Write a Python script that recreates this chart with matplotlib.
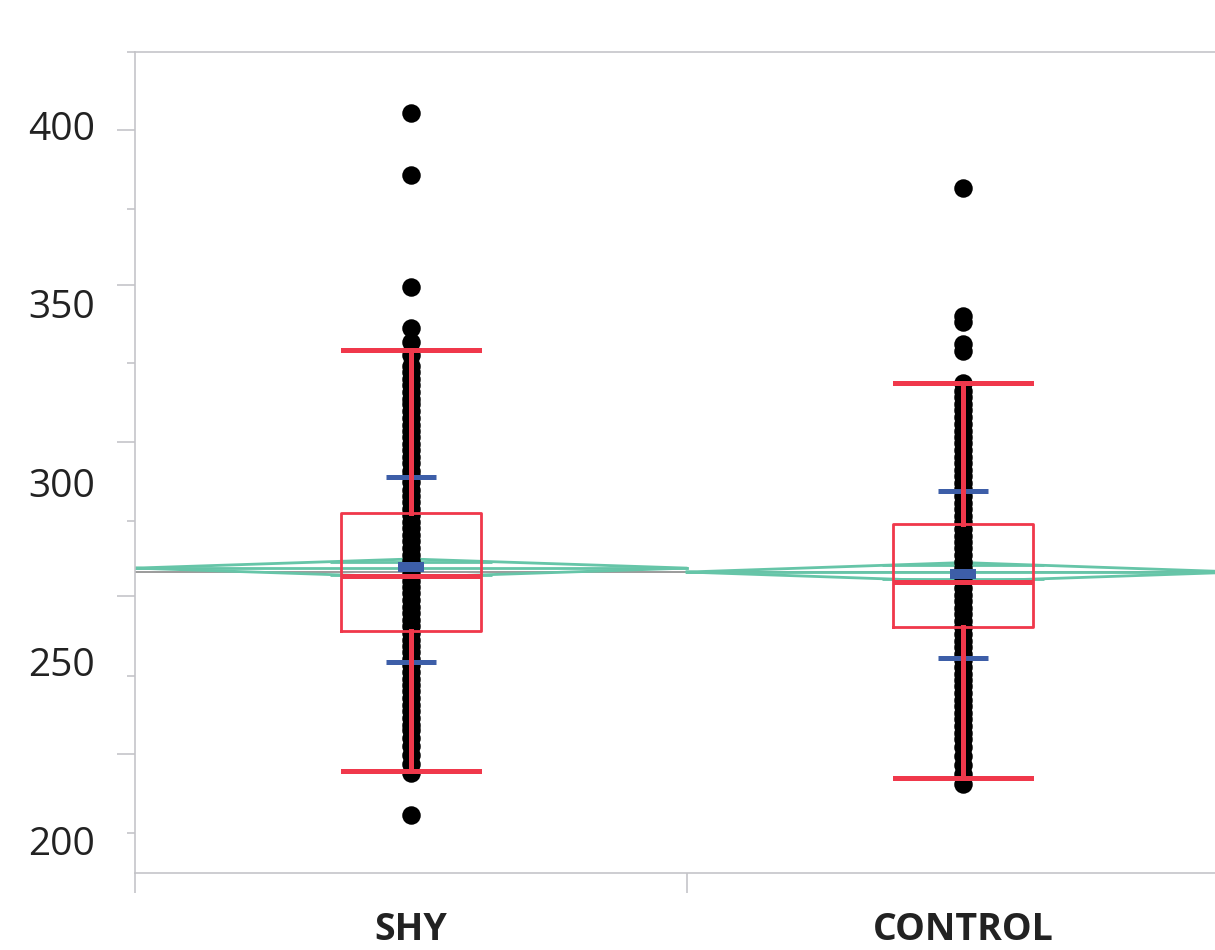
"""Oneway plot (SHY vs CONTROL): raw points, quantile boxes, SD bars, means diamonds."""

import matplotlib

matplotlib.use("Agg")
import matplotlib.pyplot as plt  # noqa: E402
import numpy as np  # noqa: E402

plt.rcParams["font.family"] = ["Open Sans", "DejaVu Sans"]

GROUPS = ["SHY", "CONTROL"]
GROUP_X = [0.5, 1.5]

SHY_VALUES = [
    403.5, 386.0, 354.7, 343.3, 339.3, 335.8, 332.6, 330.9, 329.0, 327.2,
    325.3, 323.5, 321.9, 320.0, 318.2, 316.1, 314.5, 312.7, 310.8, 309.1,
    307.2, 305.5, 303.4, 301.8, 300.1, 298.0, 296.4, 294.5, 292.6, 290.9,
    289.0, 287.3, 285.3, 283.6, 281.7, 279.8, 278.2, 276.1, 274.5, 272.6,
    270.7, 269.0, 267.1, 265.2, 263.6, 261.5, 259.9, 258.0, 256.1, 254.4,
    252.5, 250.6, 248.9, 247.1, 245.2, 243.3, 241.7, 239.8, 237.8, 236.2,
    234.3, 232.3, 230.7, 228.6, 226.4, 223.9, 221.3, 218.7, 207.0,
]
CONTROL_VALUES = [
    382.5, 346.7, 345.0, 338.9, 336.9, 327.8, 325.6, 323.9, 322.0, 320.2,
    318.3, 316.5, 314.6, 312.8, 311.0, 309.1, 307.3, 305.4, 303.6, 301.8,
    299.9, 298.1, 296.3, 294.4, 292.6, 290.7, 288.9, 287.1, 285.2, 283.4,
    281.6, 279.7, 277.9, 276.0, 274.2, 272.4, 270.5, 268.7, 266.9, 265.0,
    263.2, 261.3, 259.5, 257.7, 255.8, 254.0, 252.2, 250.3, 248.5, 246.6,
    244.8, 243.0, 241.1, 239.3, 237.5, 235.6, 233.8, 231.9, 230.1, 228.2,
    226.0, 223.6, 221.1, 218.4, 215.6,
]

# quantile boxes
Q1 = [258.5, 259.7]
MEDIAN = [274.0, 272.1]
Q3 = [291.5, 288.4]
WHISK_LO = [219.3, 217.4]
WHISK_HI = [337.2, 328.0]

# mean mark and mean +/- 1 SD bars
MEAN_MARK = [276.3, 274.5]
SD_LO = [249.8, 250.9]
SD_HI = [301.6, 297.7]

# means diamonds
DIAMOND_MEAN = [276.1, 275.0]
DIAMOND_CI = [2.55, 2.65]
GRAND_MEAN = 275.05

Y_LABELS = [200, 250, 300, 350, 400]
Y_LONG_MARKS = [398.6, 355.4, 311.5, 268.3, 224.1]
Y_SHORT_MARKS = [376.7, 333.6, 289.3, 245.9, 202.0]
Y_LIM = (190.8, 420.5)

RED = "#f0384b"
BLUE = "#3d5ea8"
GREEN = "#66c5a8"
AXIS_GREY = "#c3c3c7"
PT = 0.72  # points per pixel at 100 dpi

fig = plt.figure(figsize=(12.15, 9.5), dpi=100)
ax = fig.add_axes([135 / 1215, 77 / 950, 1104 / 1215, 821 / 950])
ax.set_xlim(0, 2)
ax.set_ylim(*Y_LIM)

ax.axhline(GRAND_MEAN, color="#858585", lw=1.6 * PT, zorder=1)

overlap_half = 0.5 * (1 - 1 / np.sqrt(2))
for x, m, ci in zip(GROUP_X, DIAMOND_MEAN, DIAMOND_CI):
    lft, rgt = x - 0.5, x + 0.5
    ax.plot([lft, x, rgt, x, lft], [m, m + ci, m, m - ci, m],
            color=GREEN, lw=2.8 * PT, zorder=2)
    ax.plot([lft, rgt], [m, m], color=GREEN, lw=2.8 * PT, zorder=2)
    h = ci / np.sqrt(2)
    ax.hlines([m + h, m - h], x - overlap_half, x + overlap_half,
              color=GREEN, lw=2.8 * PT, zorder=2)

for x, vals in zip(GROUP_X, [SHY_VALUES, CONTROL_VALUES]):
    ax.plot(np.full(len(vals), x), vals, "o", ms=18.5 * PT, color="black",
            mew=0, zorder=3)

for x, lo, hi in zip(GROUP_X, SD_LO, SD_HI):
    ax.hlines([lo, hi], x - 0.045, x + 0.045, color=BLUE, lw=5 * PT, zorder=3.5)

stats = [
    dict(med=MEDIAN[i], q1=Q1[i], q3=Q3[i], whislo=WHISK_LO[i], whishi=WHISK_HI[i])
    for i in range(len(GROUPS))
]
ax.bxp(
    stats, positions=GROUP_X, widths=0.254, capwidths=0.247,
    showfliers=False, manage_ticks=False, zorder=4,
    boxprops=dict(color=RED, lw=2.8 * PT),
    medianprops=dict(color=RED, lw=5 * PT, solid_capstyle="butt"),
    whiskerprops=dict(color=RED, lw=5 * PT),
    capprops=dict(color=RED, lw=5 * PT),
)

for x, m in zip(GROUP_X, MEAN_MARK):
    ax.hlines(m, x - 0.0227, x + 0.0227, color=BLUE, lw=10 * PT, zorder=5)

# y axis: long and short tick marks, labels on a separate axis
ax.set_yticks(Y_LONG_MARKS)
ax.set_yticks(Y_SHORT_MARKS + [Y_LIM[1]], minor=True)
ax.tick_params(axis="y", which="both", labelleft=False, color=AXIS_GREY,
               width=1.6 * PT)
ax.tick_params(axis="y", which="major", length=18 * PT)
ax.tick_params(axis="y", which="minor", length=8 * PT)

sec = ax.secondary_yaxis("left")
sec.set_yticks(Y_LABELS)
sec.tick_params(length=0, pad=40 * PT, labelsize=28, labelcolor="#222222")
sec.spines["left"].set_visible(False)

# x axis: boundary ticks, group names centred
ax.set_xticks([0, 1, 2])
ax.tick_params(axis="x", which="major", labelbottom=False, length=20 * PT,
               color=AXIS_GREY, width=1.6 * PT)
ax.set_xticks(GROUP_X, GROUPS, minor=True)
ax.tick_params(axis="x", which="minor", length=0, pad=38 * PT, labelsize=27,
               labelcolor="#222222")
for lbl in ax.get_xticklabels(minor=True):
    lbl.set_fontweight("bold")

for side in ["left", "top", "bottom"]:
    ax.spines[side].set_color(AXIS_GREY)
    ax.spines[side].set_linewidth(1.6 * PT)
ax.spines["right"].set_visible(False)

fig.savefig("out.png", dpi=100)
plt.close(fig)
